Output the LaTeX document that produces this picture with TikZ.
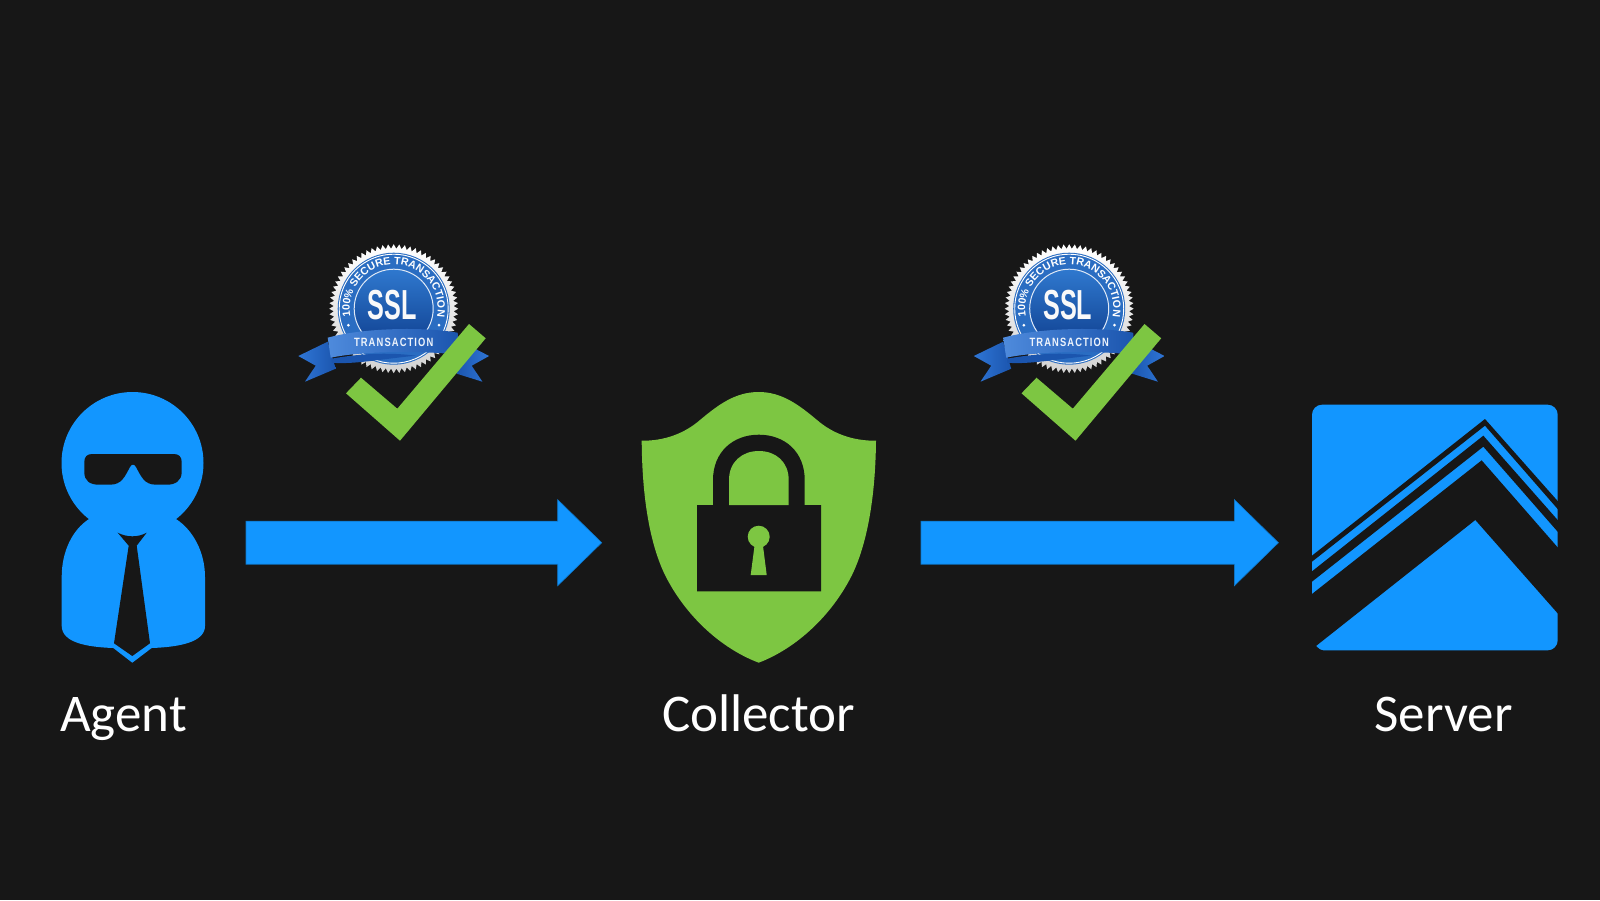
\documentclass[tikz,border=0pt]{standalone}
\usepackage{fontspec}
\setmainfont{Carlito}
\newfontfamily\badgefont{Liberation Sans}
\usetikzlibrary{decorations.text,calc}
\definecolor{bg}{HTML}{171717}
\definecolor{iconblue}{HTML}{1296FF}
\definecolor{icongreen}{HTML}{7DC642}
\definecolor{sealblue}{HTML}{2A6DC2}
\definecolor{sealdark}{HTML}{0F3F8F}
\definecolor{sealtop}{HTML}{2F78CE}
\definecolor{ribbonblue}{HTML}{2F76D6}
\definecolor{ribbondark}{HTML}{1B55AE}
\tikzset{
  x=1pt,y=-1pt,
  caption/.style={text=white,font=\fontsize{53}{56}\selectfont,anchor=base,inner sep=0pt},
  blockarrow/.style={fill=iconblue,draw=iconblue!80!black,line width=.6pt},
  cutout/.style={fill=bg,draw=none},
  bluefill/.style={fill=iconblue,draw=none},
  greenfill/.style={fill=icongreen,draw=none},
  pics/sslbadge/.style={code={
    \shade[left color=ribbonblue,right color=ribbondark] (-66,33) -- (-95.4,47.3) -- (-78,57) -- (-88.7,73) -- (-58,60) -- cycle;
    \shade[left color=ribbondark,right color=ribbonblue] (62,30) -- (95.4,47.3) -- (78,57) -- (88.7,73) -- (63,65) -- cycle;
    \shade[top color=white,bottom color=gray!35!white] plot[samples=145,domain=0:360] ({(mod(round(\x/2.5),2)==0?64.5:60)*cos(\x)},{(mod(round(\x/2.5),2)==0?64.5:60)*sin(\x)}) -- cycle;
    \fill[sealblue] (0,0) circle[radius=56];
    \draw[white,line width=.9pt] (0,0) circle[radius=54.5];
    \shade[top color=sealtop,bottom color=sealdark] (0,0) circle[radius=39];
    \draw[white!85!sealblue,line width=1pt] (0,0) circle[radius=39.5];
    \path[postaction={decorate,decoration={text along path,text align=center,
        text={|\badgefont\bfseries\fontsize{10.6}{12}\selectfont\color{white}|100{\%} SECURE TRANSACTION}}}]
        (-41.3,15) arc[start angle=160,end angle=380,radius=44];
    \fill[white] (-45.3,16.5) circle[radius=1.5] (45.3,16.5) circle[radius=1.5];
    \node[text=white!95!gray,font=\badgefont\bfseries\fontsize{42}{42}\selectfont,xscale=.6,inner sep=0] at (-1.4,-3.7) {SSL};
    \shade[left color=ribbonblue!85!white,right color=ribbondark]
      (-66,29) .. controls (-30,19) and (30,18) .. (64,24) -- (65,46) .. controls (30,42) and (-30,42) .. (-63,49) -- cycle;
    \fill[ribbondark] (-62,50) .. controls (-30,44) and (0,44) .. (22,47) .. controls (-10,50) and (-40,56) .. (-62,54) -- cycle;
    \node[text=white!92!ribbonblue,font=\badgefont\bfseries\fontsize{12}{12}\selectfont\addfontfeature{LetterSpace=12},xscale=.78,inner sep=0] at (0,34) {TRANSACTION};
    \fill[icongreen] (-47.7,84.6) -- (-32.7,69) -- (3.6,100) -- (75.3,15.3) -- (92,29.6) -- (6.3,132) -- cycle;
  }}
}
\begin{document}
\begin{tikzpicture}
\useasboundingbox (0,0) rectangle (1600,900);
\fill[bg] (0,0) rectangle (1600,900);

% ----- Agent -----
\fill[bluefill] (132.5,463) circle[radius=71];
\path[bluefill] (89,519) .. controls (72,530) and (61.7,552) .. (61.7,577) -- (61.7,626)
  .. controls (62,642) and (85,647) .. (113.3,648) -- (132.3,662.7) -- (151.7,648)
  .. controls (180,647) and (205,642) .. (205,626) -- (205,577)
  .. controls (205,552) and (193,530) .. (176,519) -- cycle;
\path[cutout] (92,454) -- (174,454) .. controls (179,454) and (181.7,457) .. (181.7,462) -- (181.7,472)
  .. controls (181.7,481) and (175,484.7) .. (167,484.7) -- (156,484.7)
  .. controls (144,484.7) and (141,476) .. (136,467) .. controls (134.5,463.8) and (131.5,463.8) .. (130,467)
  .. controls (125,476) and (122,484.7) .. (110,484.7) -- (99,484.7)
  .. controls (90,484.7) and (84.3,481) .. (84.3,472) -- (84.3,462)
  .. controls (84.3,457) and (87,454) .. (92,454) -- cycle;
\path[cutout] (117.7,532.7) .. controls (127,537.5) and (138,537.5) .. (146.7,532.7) -- (136.7,545.7)
  -- (150,643.3) -- (132.3,656) -- (114,643.3) -- (128.7,545.7) -- cycle;
\node[caption] (agent) at (123.5,731) {Agent};

% ----- Collector -----
\path[greenfill] (758.7,392) .. controls (735,392) and (718,405) .. (700,420)
  .. controls (685,433) and (665,441) .. (641.7,440.7)
  .. controls (642,490) and (648,540) .. (665,575)
  .. controls (685,615) and (720,648) .. (758.7,662.7)
  .. controls (797,648) and (832,615) .. (852,575)
  .. controls (869,540) and (875.5,490) .. (876,440.7)
  .. controls (852,441) and (832,433) .. (817,420)
  .. controls (799,405) and (782,392) .. (758.7,392) -- cycle;
\path[cutout] (697,505) -- (713,505) -- (713,480) .. controls (713,452) and (733,434.7) .. (758.8,434.7)
  .. controls (785,434.7) and (804.7,452) .. (804.7,480) -- (804.7,505) -- (821,505) -- (821,591.3) -- (697,591.3) -- cycle;
\path[greenfill] (729,505) -- (729,480) .. controls (729,462) and (742,451) .. (758.8,451)
  .. controls (776,451) and (788.7,462) .. (788.7,480) -- (788.7,505) -- cycle;
\fill[greenfill] (758.7,536.7) circle[radius=11];
\path[greenfill] (755,542) -- (762.5,542) -- (766.7,575) -- (750.7,575) -- cycle;
\node[caption] (collector) at (758.5,731) {Collector};

% ----- Server -----
\fill[bluefill,rounded corners=10pt] (1312,404.7) rectangle (1557.7,650.3);
\begin{scope}[shift={(1290,390)},x=.3333pt,y=-.3333pt]
\path[cutout] (60,501.7) -- (585,87) -- (809,339.8) -- (809,363.9) -- (585,107) -- (60,519.7) -- cycle;
\path[cutout] (60,548.7) -- (580,137) -- (809,396.8) -- (809,431.9) -- (580,170) -- (60,579.7) -- cycle;
\path[cutout] (60,616.7) -- (575,211) -- (809,478.9) -- (809,676.8) -- (556,390) -- (78,768) .. controls (84,775) and (92,781) .. (100,782) -- (60,790) -- cycle;
\end{scope}
\node[caption] (server) at (1443.4,731) {Server};

% ----- Connectors -----
\coordinate (a1s) at (246,542.7);
\coordinate (a1t) at (601.7,542.7);
\coordinate (a2s) at (921,542.7);
\coordinate (a2t) at (1278.4,542.7);
\foreach \fromc/\toc in {a1s/a1t,a2s/a2t}{
  \path[blockarrow] ([yshift=21.5pt]\fromc) -- ([xshift=-44pt,yshift=21.5pt]\toc) -- ([xshift=-44pt,yshift=43pt]\toc)
    -- (\toc) -- ([xshift=-44pt,yshift=-43pt]\toc) -- ([xshift=-44pt,yshift=-21.5pt]\toc) -- ([yshift=-21.5pt]\fromc) -- cycle;
}

% ----- Badges -----
\pic at (393.7,308.7) {sslbadge};
\pic at (1069.2,308.7) {sslbadge};
\end{tikzpicture}
\end{document}
